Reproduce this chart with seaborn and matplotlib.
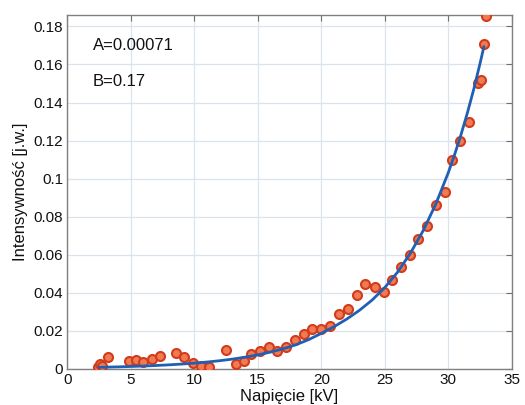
import numpy as np
import pandas as pd
import seaborn as sns
import matplotlib.pyplot as plt

# measured points (voltage kV, intensity a.u.)
napiecie = [2.45, 2.6, 2.75, 3.25, 4.9, 5.4, 5.95, 6.7, 7.3, 8.6, 9.2, 9.9,
            10.55, 11.15, 12.5, 13.25, 13.9, 14.5, 15.15, 15.85, 16.55, 17.25,
            17.9, 18.6, 19.3, 20.0, 20.7, 21.4, 22.1, 22.8, 23.45, 24.2, 24.9,
            25.6, 26.3, 26.95, 27.6, 28.35, 29.0, 29.75, 30.3, 30.9, 31.65,
            32.35, 32.6, 32.8, 33.0]
intensywnosc = [0.0012, 0.0025, 0.0015, 0.0062, 0.0043, 0.0045, 0.0035, 0.0052,
                0.0068, 0.0083, 0.0064, 0.0030, 0.0014, 0.0008, 0.0101, 0.0024,
                0.0042, 0.0077, 0.0096, 0.0113, 0.0093, 0.0113, 0.0154, 0.0185,
                0.0209, 0.0210, 0.0227, 0.0287, 0.0314, 0.0390, 0.0444, 0.0430,
                0.0403, 0.0470, 0.0535, 0.0597, 0.0684, 0.0750, 0.0860, 0.0930,
                0.1098, 0.1198, 0.1298, 0.1500, 0.1520, 0.1705, 0.1855]

# fitted curve
fit_x = [2.5, 3, 4, 5, 6, 7, 8, 9, 10, 11, 12, 13, 14, 15, 16, 17, 18, 19, 20,
         21, 22, 23, 24, 25, 26, 27, 28, 29, 30, 30.5, 31, 31.5, 32, 32.5, 32.8]
fit_y = [0.00085, 0.00093, 0.00110, 0.00130, 0.00153, 0.00182, 0.00216, 0.00257,
         0.00305, 0.00363, 0.00433, 0.00517, 0.00618, 0.00740, 0.00885, 0.01060,
         0.01270, 0.01540, 0.01870, 0.02220, 0.02620, 0.03080, 0.03620, 0.04280,
         0.05084, 0.06069, 0.07244, 0.08646, 0.1032, 0.1128, 0.1232, 0.1346,
         0.1470, 0.1607, 0.1694]

x_ticks = [0, 5, 10, 15, 20, 25, 30, 35]
y_ticks = [0, 0.02, 0.04, 0.06, 0.08, 0.1, 0.12, 0.14, 0.16, 0.18]
y_labels = ["0", "0.02", "0.04", "0.06", "0.08", "0.1", "0.12", "0.14", "0.16", "0.18"]

sns.set_style("white")
plt.rcParams['font.family'] = ['Liberation Sans', 'DejaVu Sans']

points = pd.DataFrame({"x": napiecie, "y": intensywnosc})
curve = pd.DataFrame({"x": fit_x, "y": fit_y})

fig = plt.figure(figsize=(5.25, 4.05), dpi=100)
ax = fig.add_axes([0.128, 0.089, 0.847, 0.874])

sns.scatterplot(data=points, x="x", y="y", ax=ax, s=42, color="#f07a52",
                edgecolor="#d23c1c", linewidth=1.5, zorder=3, clip_on=True)
sns.lineplot(data=curve, x="x", y="y", ax=ax, color="#1f5fb4", linewidth=2.0,
             zorder=4)

ax.set_xlim(0, 35)
ax.set_ylim(0, 0.186)
ax.set_xticks(x_ticks)
ax.set_yticks(y_ticks)
ax.set_yticklabels(y_labels)
ax.tick_params(direction="in", length=4, width=0.8, color="#707070",
               labelsize=11, labelcolor="#111111", top=True, right=True, pad=3)
ax.grid(True, color="#dbe3ec", linewidth=0.9)
ax.set_axisbelow(True)
for sp in ax.spines.values():
    sp.set_color("#808080")
    sp.set_linewidth(1.0)

ax.set_xlabel("Napięcie [kV]", fontsize=12, labelpad=1, color="#111111")
ax.set_ylabel("Intensywność [j.w.]", fontsize=12, labelpad=4, color="#111111")

ax.text(2.0, 0.170, "A=0.00071", fontsize=12, va="center", color="#111111")
ax.text(2.0, 0.151, "B=0.17", fontsize=12, va="center", color="#111111")

plt.savefig("out.png", dpi=100)
